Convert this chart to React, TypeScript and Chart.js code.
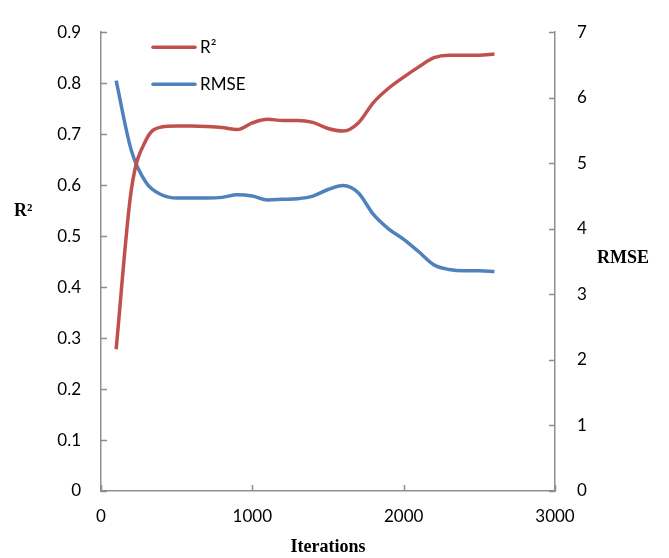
import React, { useEffect, useRef } from "react";
import { Chart, registerables } from "chart.js";

Chart.register(...registerables);

const iterations = [100, 200, 300, 400, 500, 600, 700, 800, 900, 1000, 1100, 1200, 1300, 1400, 1500, 1600, 1700, 1800, 1900, 2000, 2100, 2200, 2300, 2400, 2500, 2600];
const r2Values = [0.278, 0.59, 0.69, 0.714, 0.716, 0.716, 0.715, 0.713, 0.709, 0.722, 0.729, 0.727, 0.727, 0.723, 0.711, 0.706, 0.722, 0.762, 0.79, 0.812, 0.832, 0.85, 0.855, 0.855, 0.855, 0.857];
const rmseValues = [6.26, 5.2, 4.7, 4.52, 4.47, 4.47, 4.47, 4.48, 4.52, 4.5, 4.44, 4.45, 4.46, 4.5, 4.6, 4.66, 4.55, 4.22, 4.0, 3.84, 3.65, 3.45, 3.38, 3.36, 3.36, 3.35];
const seriesLabels = ["R²", "RMSE"];
const axisTitles = { x: "Iterations", left: "R²", right: "RMSE" };

const RED = "#C0504D";
const BLUE = "#4F81BD";
const AXIS = "#8f8f8f";
const TICK_FONT = { family: "Lato, 'Open Sans', sans-serif", size: 17 };

const insideTicks = {
  id: "insideTicks",
  afterDraw(chart: any) {
    const { ctx, chartArea } = chart;
    const len = 6;
    ctx.save();
    ctx.strokeStyle = AXIS;
    ctx.lineWidth = 1.5;
    const sx = chart.scales.x;
    sx.ticks.forEach((t: any) => {
      const px = Math.round(sx.getPixelForValue(t.value)) + 0.5;
      ctx.beginPath();
      ctx.moveTo(px, chartArea.bottom);
      ctx.lineTo(px, chartArea.bottom - len);
      ctx.stroke();
    });
    const sl = chart.scales.y;
    sl.ticks.forEach((t: any) => {
      const py = Math.round(sl.getPixelForValue(t.value)) + 0.5;
      ctx.beginPath();
      ctx.moveTo(chartArea.left, py);
      ctx.lineTo(chartArea.left + len, py);
      ctx.stroke();
    });
    const sr = chart.scales.y1;
    sr.ticks.forEach((t: any) => {
      const py = Math.round(sr.getPixelForValue(t.value)) + 0.5;
      ctx.beginPath();
      ctx.moveTo(chartArea.right, py);
      ctx.lineTo(chartArea.right - len, py);
      ctx.stroke();
    });
    ctx.restore();
  },
};

const overlayText = {
  id: "overlayText",
  afterDraw(chart: any) {
    const { ctx, chartArea } = chart;
    ctx.save();
    const items = chart.data.datasets.map((d: any) => ({ label: d.label, color: d.borderColor }));
    items.forEach((it: any, i: number) => {
      const y = chartArea.top + 15 + i * 37;
      const x0 = chartArea.left + 52;
      ctx.strokeStyle = it.color;
      ctx.lineWidth = 3.5;
      ctx.lineCap = "round";
      ctx.beginPath();
      ctx.moveTo(x0, y);
      ctx.lineTo(x0 + 42, y);
      ctx.stroke();
      ctx.fillStyle = "#000";
      ctx.font = "17px Lato, 'Open Sans', sans-serif";
      ctx.textAlign = "left";
      ctx.textBaseline = "middle";
      ctx.fillText(it.label, x0 + 47, y);
    });
    ctx.fillStyle = "#000";
    ctx.font = "bold 18px 'Liberation Serif', 'Times New Roman', serif";
    ctx.textBaseline = "middle";
    ctx.textAlign = "left";
    ctx.fillText(axisTitles.left, 14, 211);
    ctx.fillText(axisTitles.right, 597, 258);
    ctx.restore();
  },
};

export default function App() {
  const ref = useRef<HTMLCanvasElement | null>(null);

  useEffect(() => {
    document.body.style.margin = "0";
    const canvas = ref.current;
    if (!canvas) return;
    const chart = new Chart(canvas, {
      type: "line",
      data: {
        datasets: [
          {
            label: seriesLabels[0],
            data: iterations.map((x, i) => ({ x, y: r2Values[i] })),
            borderColor: RED,
            backgroundColor: RED,
            borderWidth: 3.5,
            pointRadius: 0,
            cubicInterpolationMode: "monotone",
            yAxisID: "y",
          },
          {
            label: seriesLabels[1],
            data: iterations.map((x, i) => ({ x, y: rmseValues[i] })),
            borderColor: BLUE,
            backgroundColor: BLUE,
            borderWidth: 3.5,
            pointRadius: 0,
            cubicInterpolationMode: "monotone",
            yAxisID: "y1",
          },
        ],
      },
      options: {
        responsive: false,
        animation: false,
        layout: { padding: { top: 21, left: 0, right: 0, bottom: 0 } },
        plugins: { legend: { display: false }, tooltip: { enabled: false } },
        scales: {
          x: {
            type: "linear",
            min: 0,
            max: 3000,
            grid: { display: false, drawTicks: false },
            border: { display: true, color: AXIS, width: 1.5 },
            ticks: {
              stepSize: 1000,
              color: "#000",
              font: TICK_FONT,
              padding: 15,
              maxRotation: 0,
              callback: (v: any) => String(v),
            },
            title: {
              display: true,
              text: axisTitles.x,
              color: "#000",
              font: { family: "'Liberation Serif', 'Times New Roman', serif", size: 18, weight: "bold" },
              padding: { top: 0, bottom: 0 },
            },
            afterFit: (s: any) => {
              s.height = 67;
            },
          },
          y: {
            type: "linear",
            position: "left",
            min: 0,
            max: 0.9,
            grid: { display: false, drawTicks: false },
            border: { display: true, color: AXIS, width: 1.5 },
            ticks: {
              stepSize: 0.1,
              color: "#000",
              font: TICK_FONT,
              padding: 20,
              callback: (v: any) => String(Number(Number(v).toFixed(1))),
            },
            afterFit: (s: any) => {
              s.width = 101;
            },
          },
          y1: {
            type: "linear",
            position: "right",
            min: 0,
            max: 7,
            grid: { display: false, drawTicks: false },
            border: { display: true, color: AXIS, width: 1.5 },
            ticks: { stepSize: 1, color: "#000", font: TICK_FONT, padding: 22, callback: (v: any) => String(v) },
            afterFit: (s: any) => {
              s.width = 114;
            },
          },
        },
      },
      plugins: [insideTicks, overlayText],
    });
    return () => chart.destroy();
  }, []);

  return (
    <div style={{ width: 669, height: 558 }}>
      <canvas ref={ref} width={669} height={558} />
    </div>
  );
}
